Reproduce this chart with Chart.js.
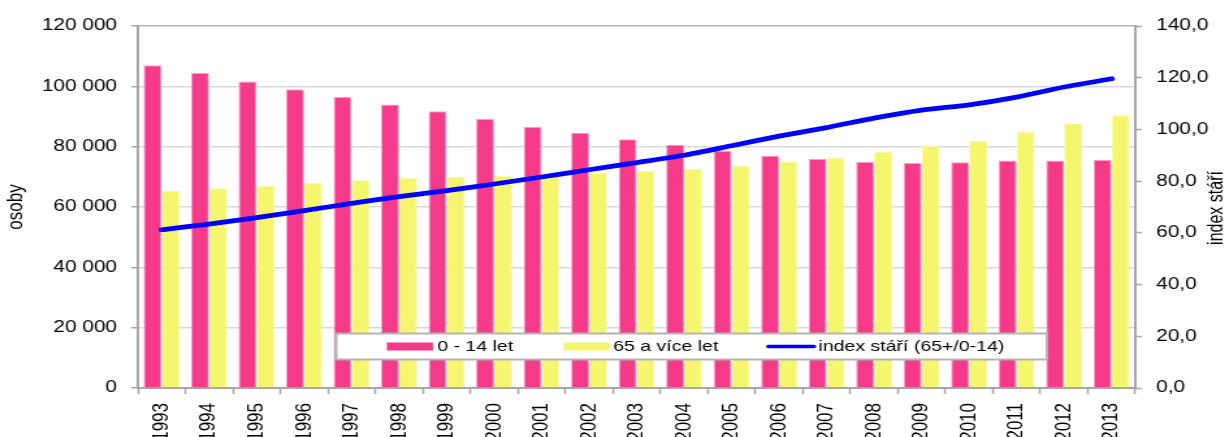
<!DOCTYPE html>
<html><head><meta charset="utf-8">
<script src="https://cdn.jsdelivr.net/npm/chart.js@4.4.1/dist/chart.umd.min.js"></script>
<style>html,body{margin:0;padding:0;background:#fff;overflow:hidden}canvas{display:block}</style>
</head><body>
<canvas id="c" width="945" height="437" style="width:1229px;height:437px"></canvas>
<script>
const years = ['1993','1994','1995','1996','1997','1998','1999','2000','2001','2002','2003','2004','2005','2006','2007','2008','2009','2010','2011','2012','2013'];
const children = [107000,104400,101600,99000,96450,94000,91700,89150,86500,84600,82500,80650,78650,77000,75900,74900,74600,74800,75450,75450,75600];
const seniors = [65500,66200,66950,67950,68850,69600,69950,70300,70600,71400,71900,72600,73700,75000,76450,78200,80200,81900,84900,87800,90400];
const ageIndex = [61.2,63.4,65.9,68.6,71.4,74.0,76.3,78.9,81.6,84.4,87.2,90.0,93.7,97.4,100.7,104.4,107.5,109.5,112.5,116.4,119.6];
const seriesLabels = ['0 - 14 let','65 a více let','index stáří (65+/0-14)'];
const leftTitle = 'osoby';
const rightTitle = 'index stáří';

const FONT = "'Liberation Sans', Arial, sans-serif";
Chart.defaults.font.family = FONT;
Chart.defaults.color = '#000';

const extras = {
  id: 'extras',
  afterDraw(chart) {
    const ctx = chart.ctx;
    ctx.save();
    ctx.font = '16px ' + FONT;
    ctx.fillStyle = '#000';
    ctx.textAlign = 'center';
    ctx.textBaseline = 'middle';
    ctx.translate(936, 208);
    ctx.rotate(-Math.PI / 2);
    ctx.fillText(rightTitle, 0, 0);
    ctx.restore();

    ctx.save();
    const bx = 258.5, by = 333.5, bw = 546.5, bh = 26;
    ctx.fillStyle = '#fff';
    ctx.fillRect(bx, by, bw, bh);
    ctx.strokeStyle = '#b4b4b4';
    ctx.lineWidth = 2;
    ctx.strokeRect(bx, by, bw, bh);
    const ds = chart.data.datasets;
    const cy = by + bh / 2;
    ctx.font = '15px ' + FONT;
    ctx.textAlign = 'left';
    ctx.textBaseline = 'middle';
    const items = [
      {ds: ds[1], sx: 297.4, tx: 336.2},
      {ds: ds[2], sx: 433.3, tx: 471.5},
      {ds: ds[0], sx: 589.8, tx: 629.3}
    ];
    items.forEach(it => {
      if (it.ds.type === 'line') {
        ctx.strokeStyle = it.ds.borderColor;
        ctx.lineWidth = 3.5;
        ctx.lineCap = 'round';
        ctx.beginPath();
        ctx.moveTo(it.sx + 1, cy);
        ctx.lineTo(it.sx + 36, cy);
        ctx.stroke();
      } else {
        ctx.fillStyle = it.ds.backgroundColor;
        ctx.fillRect(it.sx, cy - 4, 35.5, 8);
      }
      ctx.fillStyle = '#000';
      ctx.fillText(it.ds.label, it.tx, cy + 0.5);
    });
    ctx.restore();
  }
};

const fmtThousands = v => String(v).replace(/\B(?=(\d{3})+(?!\d))/g, ' ');

new Chart(document.getElementById('c'), {
  data: {
    labels: years,
    datasets: [
      {type: 'line', label: seriesLabels[2], data: ageIndex, yAxisID: 'y1', borderColor: '#0000ff', borderWidth: 4.8, pointRadius: 0, borderCapStyle: 'round', borderJoinStyle: 'round', tension: 0.2, order: 0},
      {type: 'bar', label: seriesLabels[0], data: children, yAxisID: 'y', backgroundColor: '#f53a8a', borderColor: '#f99cc2', borderWidth: {left: 1, right: 1, top: 1, bottom: 0}, categoryPercentage: 0.76, barPercentage: 1.0, order: 1},
      {type: 'bar', label: seriesLabels[1], data: seniors, yAxisID: 'y', backgroundColor: '#f5f56e', borderColor: '#f8f8a8', borderWidth: {left: 1, right: 1, top: 1, bottom: 0}, categoryPercentage: 0.76, barPercentage: 1.0, order: 2}
    ]
  },
  options: {
    responsive: false,
    animation: false,
    devicePixelRatio: 1,
    layout: {padding: {top: 26, left: 0, right: 0, bottom: 0}},
    plugins: {legend: {display: false}, tooltip: {enabled: false}, title: {display: false}},
    scales: {
      x: {
        offset: true,
        grid: {offset: true, drawOnChartArea: false, drawTicks: true, tickLength: 6, tickColor: '#a6a6a6', tickWidth: 1.5},
        border: {color: '#a6a6a6', width: 2},
        ticks: {maxRotation: 90, minRotation: 90, autoSkip: false, padding: 9, font: {size: 17}, color: '#000'},
        afterFit: s => { s.height = 49; }
      },
      y: {
        position: 'left',
        min: 0, max: 120000,
        ticks: {stepSize: 20000, padding: 11, font: {size: 16}, color: '#000', callback: v => fmtThousands(v)},
        grid: {color: c => (c.tick && c.tick.value === 120000) ? '#b4b4b4' : '#d9d9d9', lineWidth: 1.5, tickLength: 5, tickColor: '#a6a6a6', tickWidth: 1.5},
        border: {color: '#a6a6a6', width: 2},
        title: {display: true, text: leftTitle, font: {size: 17}, color: '#000', padding: {top: 2, bottom: 0}},
        afterFit: s => { s.width = 106; }
      },
      y1: {
        position: 'right',
        min: 0, max: 140,
        ticks: {stepSize: 20, padding: 11, font: {size: 16}, color: '#000', callback: v => v.toFixed(1).replace('.', ',')},
        grid: {drawOnChartArea: false, tickLength: 5, tickColor: '#a6a6a6', tickWidth: 1.5},
        border: {color: '#a6a6a6', width: 2},
        afterFit: s => { s.width = 72; }
      }
    }
  },
  plugins: [extras]
});
</script>
</body></html>
